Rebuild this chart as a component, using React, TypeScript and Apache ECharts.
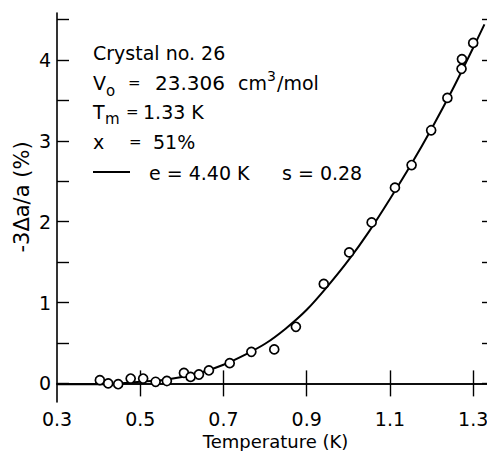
import React, { useEffect, useRef } from "react";
import * as echarts from "echarts";

// Measured points: temperature (K) and -3Δa/a (%)
const tempPoints = [0.403, 0.423, 0.447, 0.477, 0.507, 0.537, 0.564, 0.605, 0.621, 0.641, 0.665, 0.715, 0.767, 0.822, 0.874, 0.941, 1.002, 1.056, 1.112, 1.152, 1.199, 1.238, 1.272, 1.273, 1.300];
const strainPoints = [0.04, 0.00, -0.01, 0.06, 0.06, 0.02, 0.03, 0.13, 0.08, 0.11, 0.16, 0.25, 0.39, 0.42, 0.70, 1.23, 1.62, 1.99, 2.42, 2.70, 3.13, 3.53, 3.89, 4.01, 4.21];

// Fitted curve (e = 4.40 K, s = 0.28)
const curveTemp = [0.30, 0.40, 0.45, 0.50, 0.55, 0.60, 0.65, 0.70, 0.75, 0.80, 0.85, 0.90, 0.95, 1.00, 1.05, 1.10, 1.15, 1.20, 1.25, 1.30, 1.327];
const curveStrain = [-0.01, -0.01, 0.00, 0.02, 0.04, 0.08, 0.14, 0.23, 0.35, 0.49, 0.68, 0.91, 1.20, 1.52, 1.88, 2.28, 2.70, 3.15, 3.63, 4.15, 4.44];

const xLabelValues = [0.3, 0.5, 0.7, 0.9, 1.1, 1.3];
const xTickValues = [0.5, 0.7, 0.9, 1.1, 1.3];
const yLabelValues = [0, 1, 2, 3, 4];
const yTickValues = [0, 0.5, 1, 1.5, 2, 2.5, 3, 3.5, 4, 4.5];

const FONT = "DejaVu Sans";

export default function App() {
  const ref = useRef<HTMLDivElement>(null);
  useEffect(() => {
    if (!ref.current) return;
    const chart = echarts.init(ref.current, null, { renderer: "svg" });
    const axisLine = { show: true, lineStyle: { color: "#000", width: 1.6 } };
    const tickStyle = { color: "#000", width: 1.4 };
    const txt = (text: string, x: number, y: number, size = 19, extra: any = {}) => ({
      type: "text",
      x,
      y,
      style: { text, fill: "#000", font: `${size}px "${FONT}"`, verticalAlign: "middle", align: "left", ...extra },
      silent: true,
    });
    chart.setOption({
      animation: false,
      backgroundColor: "#fff",
      grid: { left: 57, top: 13, right: -7, bottom: 49, containLabel: false, outerBoundsMode: "none" },
      xAxis: [
        {
          type: "value",
          min: 0.3,
          max: 1.35,
          position: "bottom",
          axisLine,
          splitLine: { show: false },
          axisTick: { show: true, inside: true, length: 13, customValues: xTickValues, lineStyle: tickStyle },
          axisLabel: {
            show: true,
            customValues: xLabelValues,
            formatter: (v: number) => v.toFixed(1),
            color: "#000",
            fontFamily: FONT,
            fontSize: 19,
            margin: 7,
          },
          name: "Temperature (K)",
          nameLocation: "middle",
          nameGap: 27,
          nameTextStyle: { color: "#000", fontFamily: FONT, fontSize: 18 },
        },
        {
          type: "value",
          min: 0.3,
          max: 1.35,
          position: "top",
          axisLine,
          splitLine: { show: false },
          axisTick: { show: true, inside: true, length: 13, customValues: xTickValues, lineStyle: tickStyle },
          axisLabel: { show: false },
        },
      ],
      yAxis: [
        {
          type: "value",
          min: -0.23,
          max: 4.58,
          position: "left",
          axisLine,
          splitLine: { show: false },
          axisTick: { show: true, inside: true, length: 12, customValues: yTickValues, lineStyle: tickStyle },
          axisLabel: {
            show: true,
            customValues: yLabelValues,
            color: "#000",
            fontFamily: FONT,
            fontSize: 19,
            margin: 6,
          },
        },
        {
          type: "value",
          min: -0.23,
          max: 4.58,
          position: "right",
          axisLine,
          splitLine: { show: false },
          axisTick: { show: true, inside: true, length: 12, customValues: yTickValues, lineStyle: tickStyle },
          axisLabel: { show: false },
        },
      ],
      series: [
        {
          type: "line",
          data: curveTemp.map((t, i) => [t, curveStrain[i]]),
          smooth: 0.3,
          showSymbol: false,
          lineStyle: { color: "#000", width: 2 },
          z: 2,
        },
        {
          type: "scatter",
          data: tempPoints.map((t, i) => [t, strainPoints[i]]),
          symbol: "circle",
          symbolSize: 9,
          itemStyle: { color: "#fff", borderColor: "#000", borderWidth: 1.7, opacity: 1 },
          z: 3,
        },
      ],
      graphic: [
        {
          type: "text",
          x: 22,
          y: 197,
          rotation: Math.PI / 2,
          style: { text: "-3Δa/a (%)", fill: "#000", font: `21px "${FONT}"`, align: "center", verticalAlign: "middle" },
          silent: true,
        },
        txt("Crystal no. 26", 93, 53),
        txt("V", 93, 83),
        txt("o", 106, 91, 15),
        txt("=", 128, 83, 15),
        txt("23.306", 155, 83, 20),
        txt("cm", 238, 83),
        txt("3", 267, 76, 14),
        txt("/mol", 277, 83),
        txt("T", 93, 112),
        txt("m", 105, 119, 15),
        txt("=", 126, 112, 15),
        txt("1.33 K", 143, 112),
        txt("x", 93, 142),
        txt("=", 129, 142, 15),
        txt("51%", 153, 142),
        {
          type: "line",
          shape: { x1: 93, y1: 172, x2: 130, y2: 172 },
          style: { stroke: "#000", lineWidth: 2 },
          silent: true,
        },
        txt("e = 4.40 K", 149, 173),
        txt("s = 0.28", 282, 173),
      ],
    });
    return () => chart.dispose();
  }, []);
  return (
    <div
      ref={ref}
      style={{ position: "fixed", left: 0, top: 0, width: 487, height: 451, overflow: "hidden", background: "#fff" }}
    />
  );
}
